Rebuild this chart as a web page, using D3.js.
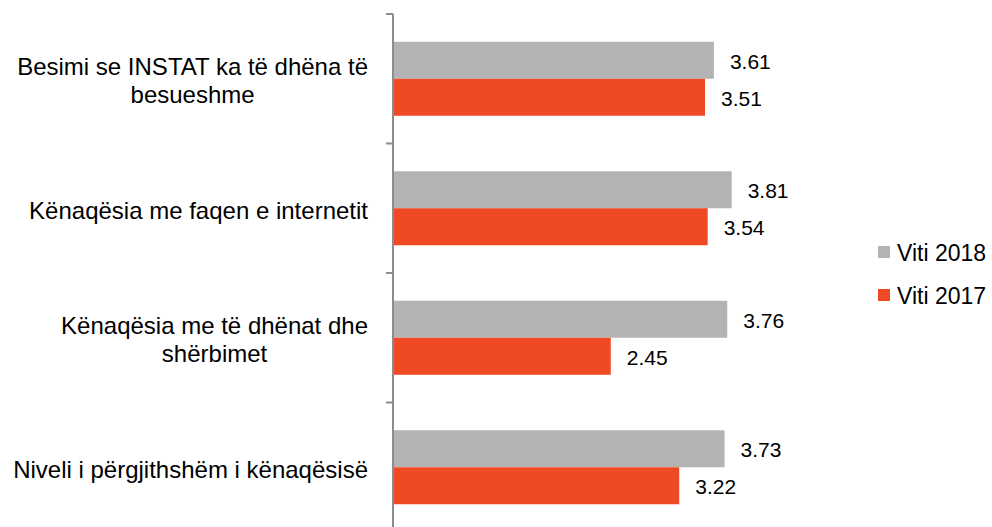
<!DOCTYPE html>
<html><head><meta charset="utf-8">
<script src="https://cdn.jsdelivr.net/npm/d3@7"></script>
<style>
html,body{margin:0;padding:0;background:#fff;}
text{font-family:"Liberation Sans",Arial,sans-serif;fill:#000;}
</style></head>
<body><svg id="c" width="992" height="527"></svg>
<script>
const categories = [
  ["Besimi se INSTAT ka të dhëna të", "besueshme"],
  ["Kënaqësia me faqen e internetit"],
  ["Kënaqësia me të dhënat dhe", "shërbimet"],
  ["Niveli i përgjithshëm i kënaqësisë"]
];
const seriesNames = ["Viti 2018", "Viti 2017"];
const values2018 = [3.61, 3.81, 3.76, 3.73];
const values2017 = [3.51, 3.54, 2.45, 3.22];
const colors = ["#B3B3B3", "#EF4A24"];

const svg = d3.select("#c");
const x0 = 393, yTop = 14, yBottom = 532;
const x = d3.scaleLinear().domain([0, 4.5]).range([x0, x0 + 400]);
const y = d3.scaleBand().domain(d3.range(categories.length)).range([yTop, yBottom]).paddingInner(0).paddingOuter(0);
const barH = 37;
const fsVal = 21, fsCat = 24, fsLeg = 23;

const series = [values2018, values2017];
series.forEach((vals, si) => {
  svg.selectAll(null).data(vals).enter().append("rect")
    .attr("x", x(0))
    .attr("y", (d, i) => y(i) + y.bandwidth() / 2 - barH + si * barH)
    .attr("width", d => x(d) - x(0))
    .attr("height", barH)
    .attr("fill", colors[si]);
  svg.selectAll(null).data(vals).enter().append("text")
    .attr("x", d => x(d) + 16)
    .attr("y", (d, i) => y(i) + y.bandwidth() / 2 - barH + si * barH + barH / 2 + 1)
    .attr("dy", "0.35em")
    .attr("font-size", fsVal)
    .text(d => d.toFixed(2));
});

// axis
const axis = svg.append("g");
axis.append("line").attr("x1", x0).attr("x2", x0).attr("y1", yTop).attr("y2", yBottom)
  .attr("stroke", "#8C8C8C").attr("stroke-width", 2);
const ticks = d3.range(categories.length + 1).map(i => yTop + i * y.bandwidth());
axis.selectAll(null).data(ticks).enter().append("line")
  .attr("x1", x0 - 7).attr("x2", x0).attr("y1", d => d).attr("y2", d => d)
  .attr("stroke", "#8C8C8C").attr("stroke-width", 2);

// category labels: block right-aligned, lines centered
const lineH = 28.5;
categories.forEach((lines, i) => {
  const g = svg.append("g");
  const texts = lines.map((l, j) => g.append("text")
    .attr("font-size", fsCat)
    .attr("text-anchor", "middle")
    .attr("y", y(i) + y.bandwidth() / 2 + 2 + (j - (lines.length - 1) / 2) * lineH)
    .attr("dy", "0.35em")
    .text(l));
  const w = d3.max(texts, t => t.node().getComputedTextLength());
  texts.forEach(t => t.attr("x", 368 - w / 2));
});

// legend
seriesNames.forEach((n, i) => {
  const ly = 252 + i * 43;
  svg.append("rect").attr("x", 878).attr("y", ly - 6).attr("width", 12).attr("height", 12).attr("fill", colors[i]);
  svg.append("text").attr("x", 897).attr("y", ly + 1).attr("dy", "0.35em").attr("font-size", fsLeg).text(n);
});
</script></body></html>
